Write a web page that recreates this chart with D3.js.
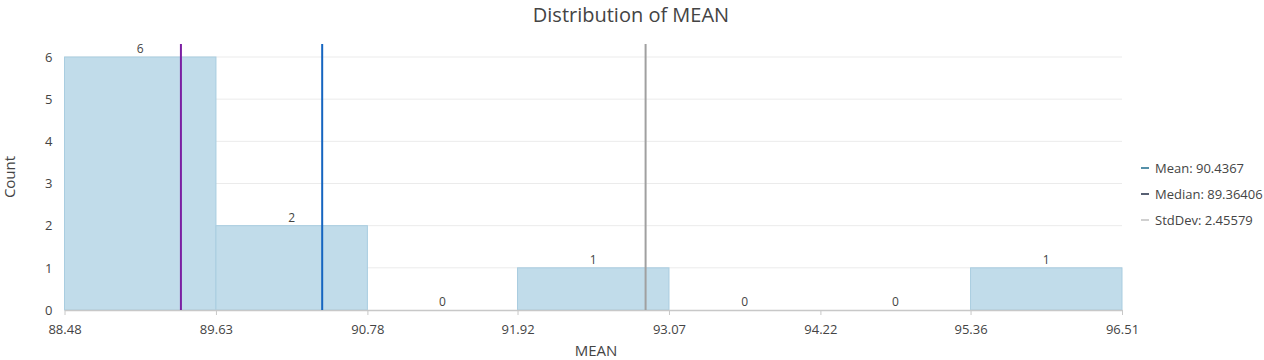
<!DOCTYPE html>
<html><head><meta charset="utf-8">
<script src="https://cdn.jsdelivr.net/npm/d3@7"></script>
<style>body{margin:0;background:#fff;font-family:"Open Sans","Noto Sans",sans-serif;}</style>
</head><body><svg id="c" width="1264" height="360"></svg>
<script>
const binEdges = [88.48, 89.63, 90.78, 91.92, 93.07, 94.22, 95.36, 96.51];
const counts = [6, 2, 0, 1, 0, 0, 1];
const yTicks = [0, 1, 2, 3, 4, 5, 6];
const statNames = ["Mean", "Median", "StdDev"];
const statValues = [90.4367, 89.36406, 2.45579];
const statLabels = ["Mean: 90.4367", "Median: 89.36406", "StdDev: 2.45579"];

const svg = d3.select("#c");
const m = {l: 64.5, r: 1122, t: 57, b: 310};
const x = d3.scaleLinear().domain([binEdges[0], binEdges[binEdges.length-1]]).range([m.l, m.r]);
const y = d3.scaleLinear().domain([0, 6]).range([m.b, m.t]);

// gridlines
svg.append("g").selectAll("line").data(yTicks.filter(d=>d>0)).join("line")
  .attr("x1", m.l).attr("x2", m.r).attr("y1", d=>y(d)).attr("y2", d=>y(d))
  .attr("stroke", "#ebebeb").attr("stroke-width", 1);

// bars
const bins = counts.map((c,i)=>({x0: binEdges[i], x1: binEdges[i+1], c}));
svg.append("g").selectAll("rect").data(bins.filter(b=>b.c>0)).join("rect")
  .attr("x", d=>x(d.x0)).attr("width", d=>x(d.x1)-x(d.x0))
  .attr("y", d=>y(d.c)).attr("height", d=>y(0)-y(d.c))
  .attr("fill", "#c1dcea").attr("stroke", "#a9cde0").attr("stroke-width", 1);

// bar labels
svg.append("g").selectAll("text").data(bins).join("text")
  .attr("x", d=>(x(d.x0)+x(d.x1))/2).attr("y", d=>y(d.c)-4)
  .attr("text-anchor", "middle").attr("font-size", 12).attr("fill", "#444")
  .text(d=>d.c);

// x axis
const xAxis = svg.append("g").attr("transform", `translate(0,${m.b})`)
  .call(d3.axisBottom(x).tickValues(binEdges).tickFormat(d3.format(".2f")).tickSize(5).tickSizeOuter(0));
xAxis.select(".domain").attr("stroke", "#c8c8c8").attr("stroke-width", 1.5);
xAxis.selectAll(".tick line").attr("stroke", "#c8c8c8");
xAxis.selectAll("text").attr("font-size", 13).attr("fill", "#444").attr("dy", "1.2em").attr("font-family", "Open Sans");

// y axis
const yAxis = svg.append("g").attr("transform", `translate(${m.l},0)`)
  .call(d3.axisLeft(y).tickValues(yTicks).tickFormat(d3.format("d")).tickSize(0).tickPadding(12));
yAxis.select(".domain").remove();
yAxis.selectAll("text").attr("font-size", 13).attr("fill", "#444").attr("font-family", "Open Sans");

// stat lines
const mean = statValues[0], median = statValues[1], sd = statValues[2];
const vlines = [
  {v: median, c: "#7b1fa2"},
  {v: mean, c: "#1565c0"},
  {v: mean + sd, c: "#a0a0a0"}
];
svg.append("g").selectAll("line").data(vlines).join("line")
  .attr("x1", d=>x(d.v)).attr("x2", d=>x(d.v)).attr("y1", 44).attr("y2", m.b)
  .attr("stroke", d=>d.c).attr("stroke-width", 2);

// title & labels
svg.append("text").attr("x", 631).attr("y", 22).attr("text-anchor", "middle")
  .attr("font-size", 20).attr("fill", "#444").text("Distribution of MEAN");
svg.append("text").attr("x", 596).attr("y", 356).attr("text-anchor", "middle")
  .attr("font-size", 15).attr("fill", "#444").text("MEAN");
svg.append("text").attr("transform", "translate(15,177) rotate(-90)").attr("text-anchor", "middle")
  .attr("font-size", 15).attr("fill", "#444").text("Count");

// legend
const legColors = ["#1d6b8c", "#1f2b45", "#c0c0c0"];
const lg = svg.append("g").selectAll("g").data(statLabels).join("g")
  .attr("transform", (d,i)=>`translate(1141,${168 + i*26})`);
lg.append("line").attr("x1", 0).attr("x2", 8).attr("y1", 0).attr("y2", 0)
  .attr("stroke", (d,i)=>legColors[i]).attr("stroke-width", 1.5);
lg.append("text").attr("x", 14).attr("y", 4.5).attr("font-size", 13).attr("fill", "#444").text(d=>d);
</script></body></html>
